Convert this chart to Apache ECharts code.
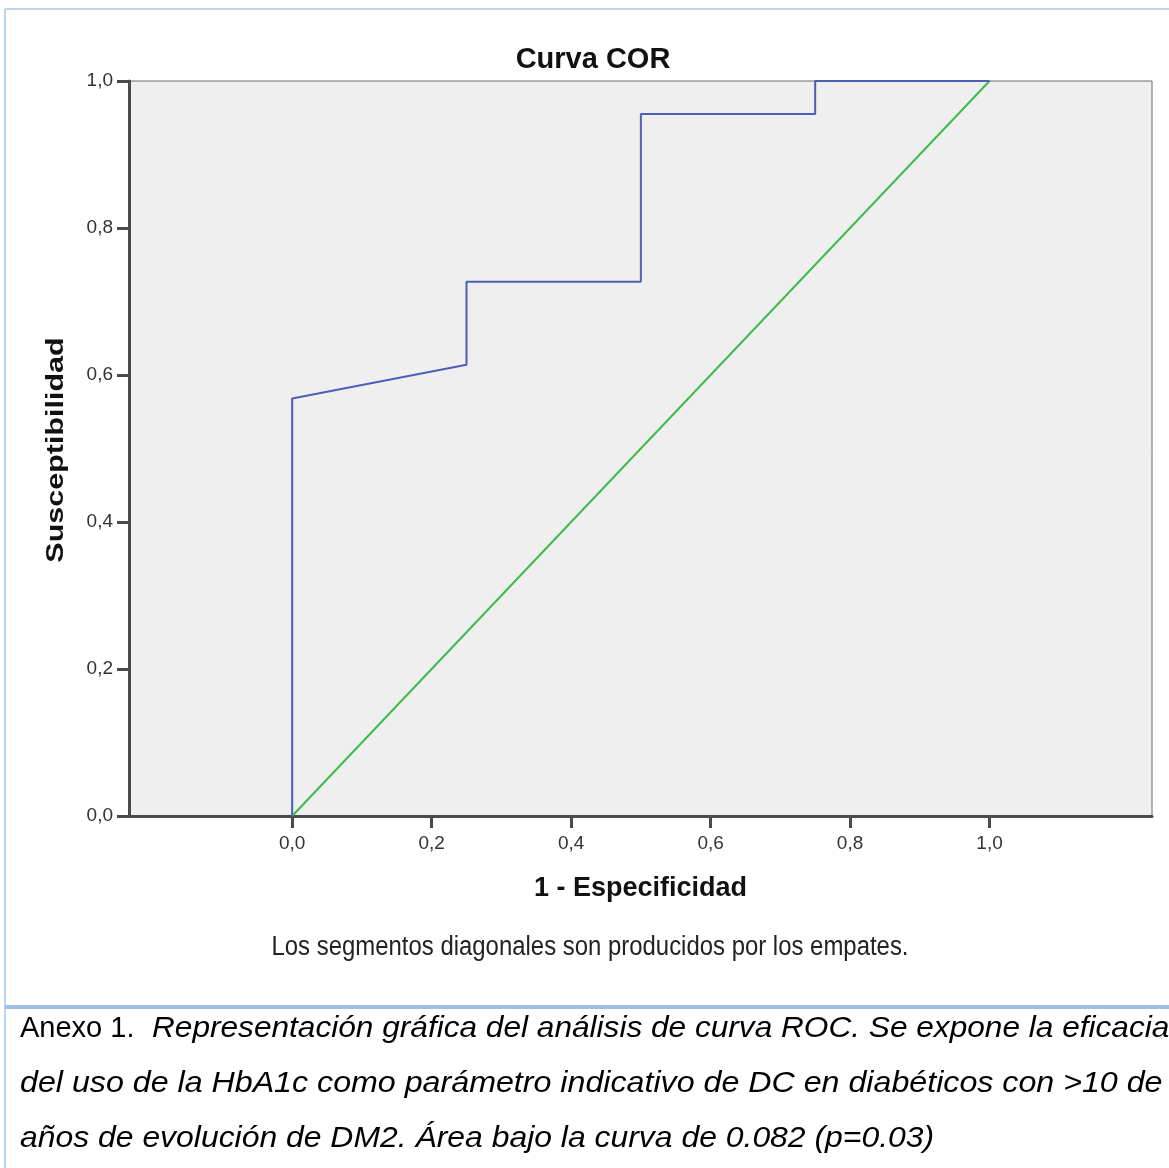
<!DOCTYPE html>
<html>
<head>
<meta charset="utf-8">
<script src="https://cdn.jsdelivr.net/npm/echarts@6/dist/echarts.min.js"></script>
<style>
html,body{margin:0;padding:0;background:#fff;}
#c{width:1169px;height:1168px;}
</style>
</head>
<body>
<div id="c"></div>
<script>
// Data
var titleText = 'Curva COR';
var xName = '1 - Especificidad';
var yName = 'Susceptibilidad';
var footnote = 'Los segmentos diagonales son producidos por los empates.';
var tickValues = [0, 0.2, 0.4, 0.6, 0.8, 1.0];
var rocFpr = [0, 0, 0.25, 0.25, 0.5, 0.5, 0.75, 0.75, 1];
var rocTpr = [0, 0.568, 0.614, 0.727, 0.727, 0.955, 0.955, 1, 1];
var refX = [0, 1];
var refY = [0, 1];
var captionLine1Normal = 'Anexo 1.';
var captionLine1Italic = 'Representación gráfica del análisis de curva ROC. Se expone la eficacia';
var captionLine2 = 'del uso de la HbA1c como parámetro indicativo de DC en diabéticos con >10 de';
var captionLine3 = 'años de evolución de DM2. Área bajo la curva de 0.082 (p=0.03)';

var FF = "'Liberation Sans', Arial, Helvetica, sans-serif";
var fmt = function (v) { return v.toFixed(1).replace('.', ','); };
var rocData = rocFpr.map(function (x, i) { return [x, rocTpr[i]]; });
var refData = refX.map(function (x, i) { return [x, refY[i]]; });

var chart = echarts.init(document.getElementById('c'), null, {renderer: 'canvas'});
var axisCol = '#4a4a4a';
var capStyle = function (t, italic) {
  return {text: t, fontFamily: FF, fontSize: 29, fontStyle: italic ? 'italic' : 'normal', fill: '#000', verticalAlign: 'middle', align: 'left'};
};
var option = {
  backgroundColor: '#ffffff',
  animation: false,
  title: {
    text: titleText, left: 588, top: 40, textAlign: 'center',
    textStyle: {fontFamily: FF, fontSize: 29, fontWeight: 'bold', color: '#111'}
  },
  grid: {
    left: 129, top: 81, right: 17, bottom: 352,
    show: true, backgroundColor: '#efefef', borderColor: '#6a6a6a', borderWidth: 1
  },
  xAxis: {
    type: 'value', min: -0.234, max: 1.233,
    name: xName, nameLocation: 'middle', nameGap: 59,
    nameTextStyle: {fontFamily: FF, fontSize: 27, fontWeight: 'bold', color: '#111'},
    axisLine: {show: true, onZero: false, lineStyle: {color: axisCol, width: 3}},
    axisTick: {show: true, customValues: tickValues, length: 12, lineStyle: {color: axisCol, width: 3}},
    axisLabel: {customValues: tickValues, formatter: fmt, fontSize: 19, color: '#333', margin: 18, fontFamily: FF},
    splitLine: {show: false}
  },
  yAxis: {
    type: 'value', min: 0, max: 1, interval: 0.2,
    axisLine: {show: true, onZero: false, lineStyle: {color: axisCol, width: 3}},
    axisTick: {show: true, length: 12, lineStyle: {color: axisCol, width: 3}},
    axisLabel: {formatter: fmt, fontSize: 19, color: '#333', margin: 16, fontFamily: FF},
    splitLine: {show: false}
  },
  series: [
    {type: 'line', data: refData, symbol: 'none', clip: false, lineStyle: {color: '#3dbb4c', width: 2}, z: 3},
    {type: 'line', data: rocData, symbol: 'none', clip: false, lineStyle: {color: '#4a60b6', width: 2}, z: 4}
  ],
  graphic: [
    {type: 'line', shape: {x1: 5, y1: 9, x2: 5, y2: 1168}, style: {stroke: '#bcd5ee', lineWidth: 2}, silent: true},
    {type: 'line', shape: {x1: 5, y1: 9, x2: 1169, y2: 9}, style: {stroke: '#bcd5ee', lineWidth: 2}, silent: true},
    {type: 'line', shape: {x1: 5, y1: 1007, x2: 1169, y2: 1007}, style: {stroke: '#9dc1e4', lineWidth: 4}, silent: true},
    {type: 'text', x: 56, y: 450, rotation: Math.PI / 2, scaleX: 1.27, style: {text: yName, fontFamily: FF, fontSize: 24, fontWeight: 'bold', fill: '#111', align: 'center', verticalAlign: 'middle'}},
    {type: 'text', x: 590, y: 948, scaleX: 0.886, style: {text: footnote, fontFamily: FF, fontSize: 27, fill: '#222', align: 'center', verticalAlign: 'middle'}},
    {type: 'text', x: 20, y: 1029, style: capStyle(captionLine1Normal, false)},
    {type: 'text', x: 152, y: 1029, scaleX: 1.09, style: capStyle(captionLine1Italic, true)},
    {type: 'text', x: 20, y: 1084, scaleX: 1.11, style: capStyle(captionLine2, true)},
    {type: 'text', x: 20, y: 1139, scaleX: 1.10, style: capStyle(captionLine3, true)}
  ]
};
chart.setOption(option);
</script>
</body>
</html>
